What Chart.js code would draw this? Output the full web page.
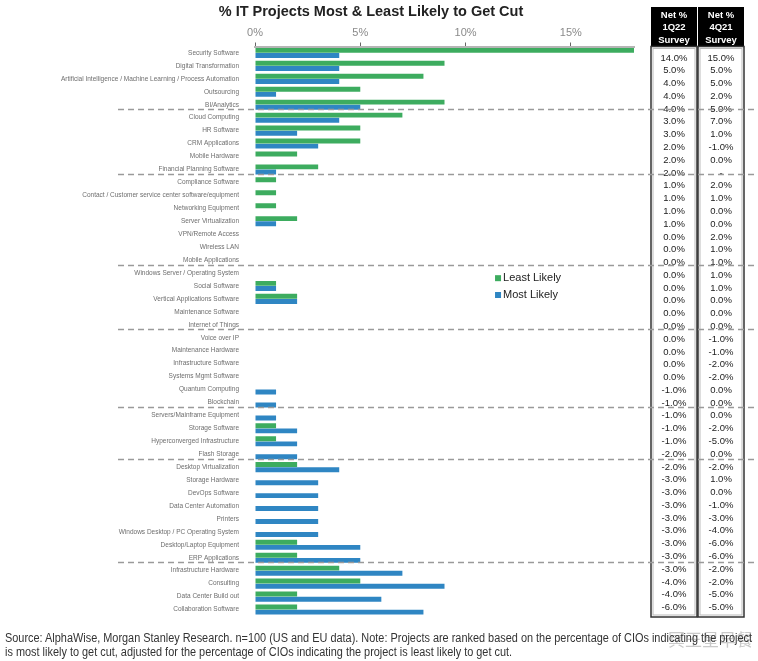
<!DOCTYPE html>
<html>
<head>
<meta charset="utf-8">
<script src="https://cdn.jsdelivr.net/npm/chart.js@4.4.1/dist/chart.umd.min.js"></script>
<style>
  html, body { margin: 0; padding: 0; background: #fff; }
  #wrap { position: relative; width: 758px; height: 661px; overflow: hidden; }
  #c { position: absolute; left: 0; top: 0; }
  #title { position: absolute; left: 0; top: 3px; width: 742px; text-align: center;
    font: bold 14.5px "Liberation Sans", Arial, sans-serif; color: #222; }
  #foot { position: absolute; left: 5px; top: 631px; font: 12px "Liberation Sans", Arial, sans-serif;
    color: #333; line-height: 14px; white-space: nowrap; transform-origin: 0 0; }
  #wm { position: absolute; left: 668px; top: 626px; font: 17px "Noto Sans CJK SC", sans-serif; color: #c9c9c9; }
</style>
</head>
<body>
<div id="wrap">
  <canvas id="c" width="758" height="661"></canvas>
  <div id="title">% IT Projects Most &amp; Least Likely to Get Cut</div>
  <div id="wm">冥王星早餐</div>
  <div id="foot"><span id="l1">Source: AlphaWise, Morgan Stanley Research. n=100 (US and EU data). Note: Projects are ranked based on the percentage of CIOs indicating the project</span><br>is most likely to get cut, adjusted for the percentage of CIOs indicating the project is least likely to get cut.</div>
</div>
<script>
const categories = [
  "Security Software", "Digital Transformation", "Artificial Intelligence / Machine Learning / Process Automation",
  "Outsourcing", "BI/Analytics", "Cloud Computing", "HR Software", "CRM Applications", "Mobile Hardware",
  "Financial Planning Software", "Compliance Software", "Contact / Customer service center software/equipment",
  "Networking Equipment", "Server Virtualization", "VPN/Remote Access", "Wireless LAN", "Mobile Applications",
  "Windows Server / Operating System", "Social Software", "Vertical Applications Software", "Maintenance Software",
  "Internet of Things", "Voice over IP", "Maintenance Hardware", "Infrastructure Software", "Systems Mgmt Software",
  "Quantum Computing", "Blockchain", "Servers/Mainframe Equipment", "Storage Software", "Hyperconverged Infrastructure",
  "Flash Storage", "Desktop Virtualization", "Storage Hardware", "DevOps Software", "Data Center Automation",
  "Printers", "Windows Desktop / PC Operating System", "Desktop/Laptop Equipment", "ERP Applications",
  "Infrastructure Hardware", "Consulting", "Data Center Build out", "Collaboration Software"
];
const leastLikely = [18, 9, 8, 5, 9, 7, 5, 5, 2, 3, 1, 1, 1, 2, 0, 0, 0, 0, 1, 2, 0, 0, 0, 0, 0, 0, 0, 0, 0, 1, 1, 0, 2, 0, 0, 0, 0, 0, 2, 2, 4, 5, 2, 2];
const mostLikely  = [4, 4, 4, 1, 5, 4, 2, 3, 0, 1, 0, 0, 0, 1, 0, 0, 0, 0, 1, 2, 0, 0, 0, 0, 0, 0, 1, 1, 1, 2, 2, 2, 4, 3, 3, 3, 3, 3, 5, 5, 7, 9, 6, 8];
const net1Q22 = [14, 5, 4, 4, 4, 3, 3, 2, 2, 2, 1, 1, 1, 1, 0, 0, 0, 0, 0, 0, 0, 0, 0, 0, 0, 0, -1, -1, -1, -1, -1, -2, -2, -3, -3, -3, -3, -3, -3, -3, -3, -4, -4, -6];
const net4Q21 = [15, 5, 5, 2, 5, 7, 1, -1, 0, null, 2, 1, 0, 0, 2, 1, 1, 1, 1, 0, 0, 0, -1, -1, -2, -2, 0, 0, 0, -2, -5, 0, -2, 1, 0, -1, -3, -4, -6, -6, -2, -2, -5, -5];
const tableHeaders = [["Net %", "1Q22", "Survey"], ["Net %", "4Q21", "Survey"]];
const groupEnds = [4, 9, 16, 21, 27, 31, 39];
const xTicks = [0, 5, 10, 15];

const GREEN = '#3dac5f';
const BLUE = '#2f86c3';

const fmt = v => v === null ? '-' : v.toFixed(1) + '%';

// fit the footer width like the condensed source font
(function () {
  const w = document.getElementById('l1').getBoundingClientRect().width;
  document.getElementById('foot').style.transform = 'scaleX(' + (747 / w) + ')';
})();

const extras = {
  id: 'extras',
  afterDraw(chart) {
    const ctx = chart.ctx;
    const y = chart.scales.y, x = chart.scales.x;
    const step = y.getPixelForValue(1) - y.getPixelForValue(0);
    const cols = [{l: 651, r: 697}, {l: 698, r: 744}];
    const area = chart.chartArea;
    ctx.save();
    cols.forEach((c, ci) => {
      ctx.fillStyle = '#000';
      ctx.fillRect(c.l, 7, c.r - c.l, area.top - 7);
      ctx.fillStyle = '#fff';
      ctx.font = 'bold 9.5px "Liberation Sans", Arial, sans-serif';
      ctx.textAlign = 'center';
      ctx.textBaseline = 'middle';
      tableHeaders[ci].forEach((t, k) => ctx.fillText(t, (c.l + c.r) / 2, 15 + k * 12.5));
      ctx.strokeStyle = '#333';
      ctx.lineWidth = 1.5;
      ctx.strokeRect(c.l, area.top, c.r - c.l, area.bottom - area.top + 1);
      ctx.strokeStyle = '#bbb';
      ctx.lineWidth = 1;
      ctx.strokeRect(c.l + 2, area.top + 2, c.r - c.l - 4, area.bottom - area.top - 3);
    });
    ctx.fillStyle = '#222';
    ctx.font = '9.5px "Liberation Sans", Arial, sans-serif';
    const n = categories.length;
    for (let i = 0; i < n; i++) {
      const yy = y.getPixelForValue(i) + 5 - 7 * i / (n - 1);
      ctx.fillText(fmt(net1Q22[i]), (cols[0].l + cols[0].r) / 2, yy);
      ctx.fillText(fmt(net4Q21[i]), (cols[1].l + cols[1].r) / 2, yy);
    }
    ctx.strokeStyle = '#9a9a9a';
    ctx.lineWidth = 1.3;
    ctx.setLineDash([6, 4]);
    groupEnds.forEach(g => {
      const yy = Math.round(y.getPixelForValue(g) + 0.35 * step) + 0.5;
      ctx.beginPath();
      ctx.moveTo(118, yy);
      ctx.lineTo(758, yy);
      ctx.stroke();
    });
    ctx.setLineDash([]);
    const lx = x.getPixelForValue(11.4);
    chart.data.datasets.forEach((ds, k) => {
      const ly = y.getPixelForValue(17.4 + k * 1.3);
      ctx.fillStyle = ds.backgroundColor;
      ctx.fillRect(lx, ly - 3, 6, 6);
      ctx.fillStyle = '#222';
      ctx.font = '11px "Liberation Sans", Arial, sans-serif';
      ctx.textAlign = 'left';
      ctx.fillText(ds.label, lx + 8, ly);
    });
    ctx.restore();
  }
};

new Chart(document.getElementById('c'), {
  type: 'bar',
  data: {
    labels: categories,
    datasets: [
      { label: 'Least Likely', data: leastLikely, backgroundColor: GREEN, categoryPercentage: 0.8, barPercentage: 0.95 },
      { label: 'Most Likely', data: mostLikely, backgroundColor: BLUE, categoryPercentage: 0.8, barPercentage: 0.95 }
    ]
  },
  options: {
    indexAxis: 'y',
    responsive: false,
    animation: false,
    devicePixelRatio: 1,
    layout: { padding: { left: 0, right: 124, top: 0, bottom: 45 } },
    plugins: { legend: { display: false }, tooltip: { enabled: false } },
    scales: {
      x: {
        position: 'top', min: 0, max: 18,
        afterBuildTicks: s => { s.ticks = xTicks.map(v => ({ value: v })); },
        afterFit: s => { s.height = 46.5; },
        grid: { drawOnChartArea: false, drawTicks: true, tickLength: 4, color: '#666' },
        border: { display: true, color: '#b5b5b5', width: 2 },
        ticks: { callback: v => v + '%', color: '#8a8a8a', padding: 3, font: { size: 11, family: '"Liberation Sans", Arial, sans-serif' } }
      },
      y: {
        afterFit: s => { s.width = 255; },
        grid: { display: false },
        border: { display: false },
        ticks: { autoSkip: false, color: '#6e6e6e', padding: 8, font: { size: 6.5, family: '"Liberation Sans", Arial, sans-serif' } }
      }
    }
  },
  plugins: [extras]
});
</script>
</body>
</html>
